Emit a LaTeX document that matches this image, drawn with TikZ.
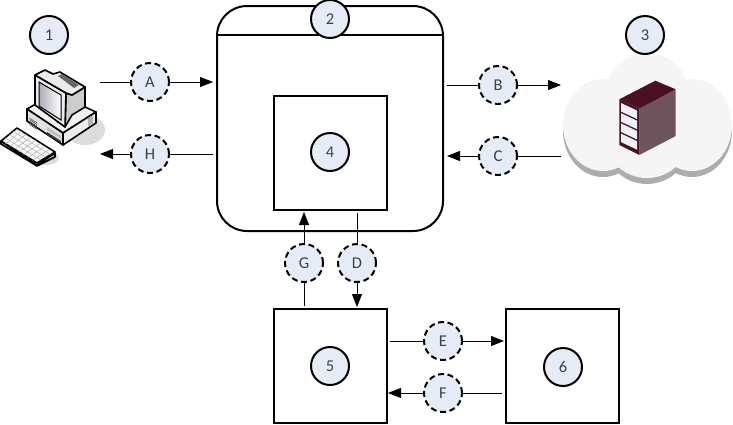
\documentclass[tikz,border=0pt]{standalone}
\usepackage{fontspec}
\setmainfont{Carlito}
\usetikzlibrary{arrows.meta,calc}
\definecolor{bub}{HTML}{E6ECF7}
\definecolor{txt}{HTML}{404040}
\definecolor{srvd}{HTML}{4A1024}
\definecolor{srvm}{HTML}{6E545C}
\tikzset{
  numc/.style={circle,draw=black,line width=2pt,fill=bub,minimum size=38pt,inner sep=0pt,text=txt,font=\fontsize{16.5}{16.5}\selectfont},
  letc/.style={numc,dash pattern=on 6pt off 3.6pt},
  boxn/.style={draw=black,line width=2pt,fill=white,minimum width=113pt,minimum height=113.5pt,inner sep=0pt,outer sep=0pt,anchor=north west},
  conn/.style={draw=black,line width=.8pt,-{Triangle[length=13pt,width=10pt]}},
  plain/.style={draw=black,line width=.8pt},
  ol/.style={draw=black,line width=1.6pt,line join=round},
}
\begin{document}
\begin{tikzpicture}[x=1pt,y=-1pt]
\useasboundingbox (0,0) rectangle (733,424);
% cloud
\foreach \dy/\c in {6/black!32,0/black!4}{
  \fill[\c] (603,125+\dy) ellipse [x radius=40,y radius=46];
  \fill[\c] (692,125+\dy) ellipse [x radius=40,y radius=46];
  \fill[\c] (647,95+\dy) circle [radius=42];
  \fill[\c] (647,135+\dy) circle [radius=43];
}
% server
\fill[srvm] (639.3,108.7) -- (675.7,89.3) -- (675.7,136) -- (639.3,155) -- cycle;
\fill[srvd] (619.3,99.3) -- (655.3,80.7) -- (675.7,89.3) -- (639.3,108.7) -- cycle;
\fill[srvd] (619.3,99.3) -- (639.3,108.7) -- (639.3,155) -- (619.3,145) -- cycle;
\foreach \k in {0,1,2,3}{
  \fill[bub!70!white] (621,103+\k*10.2) -- (637,110.5+\k*10.2) -- (637,119+\k*10.2) -- (621,111.5+\k*10.2) -- cycle;
}
% computer shadows
\fill[black!14] (85,130) ellipse [x radius=20,y radius=15];
\fill[black!14] (45,158) ellipse [x radius=14,y radius=7];
% base unit
\filldraw[ol,fill=white!95!black] (27,109) -- (34,105) -- (85,107) -- (96,112) -- (63,133) -- cycle;
\filldraw[ol,fill=white!88!black] (27,109) -- (63,133) -- (63,145) -- (27,121) -- cycle;
\filldraw[ol,fill=white!93!black] (63,133) -- (96,112) -- (96,123) -- (63,145) -- cycle;
\foreach \k in {0,1,2,3,4}{\draw[black!65,line width=.6pt] (29.5,118+\k*1.6) -- (37,123+\k*1.6);}
\fill[black!25] (47,127) -- (61,136) -- (61,139) -- (47,130) -- cycle;
\fill[black!80] (47,132) -- (61,141) -- (61,143.5) -- (47,135) -- cycle;
\fill[black!30] (88,118) -- (93,115) -- (93,124) -- (88,127) -- cycle;
% monitor
\filldraw[ol,fill=white!80!black] (72,95) -- (85,87) -- (85,107) -- (72,115) -- (65,127) -- (66,93) -- cycle;
\filldraw[ol,fill=white!92!black] (35,75) -- (66,93) -- (65,127) -- (35,105) -- cycle;
\filldraw[ol,fill=white!92!black] (35,75) -- (45,70) -- (53,74) -- (60,72) -- (85,87) -- (72,95) -- (66,93) -- cycle;
\fill[black!60] (58,76) -- (62,74) -- (79,85) -- (74,88) -- cycle;
\filldraw[draw=black,line width=1pt,left color=bub!70!black!90!white,right color=white] (39,82) -- (61,95) -- (61,120) -- (39,106) -- cycle;
\fill[black] (58,122) circle [radius=1];
% keyboard
\filldraw[ol,fill=white!70!black] (1,141) -- (37,165) -- (55,153) -- (55,157) -- (37,166) -- (1,144) -- cycle;
\filldraw[ol,fill=white!97!black] (1,141) -- (17,128) -- (55,152) -- (37,163) -- cycle;
\foreach \t in {.25,.5,.75}{
  \draw[black!30,line width=.5pt] ($(1,141)!\t!(17,128)$) -- ($(37,163)!\t!(55,152)$);
}
\foreach \t in {.125,.25,.375,.5,.625,.75,.875}{
  \draw[black!30,line width=.5pt] ($(1,141)!\t!(37,163)$) -- ($(17,128)!\t!(55,152)$);
}
% boxes
\draw[line width=2pt,rounded corners=30pt,fill=white] (217,6) rectangle (443,231);
\draw[line width=2pt] (217,35) -- (443,35);
\node[boxn] (b4) at (274,96) {};
\node[boxn] (b5) at (274,309) {};
\node[boxn] (b6) at (506,309) {};
\node[numc] (n1) at (49,35) {1};
\node[numc] (n2) at (330,19) {2};
\node[numc] (n3) at (645,35) {3};
\node[numc] (n4) at (330,152) {4};
\node[numc] (n5) at (330,366) {5};
\node[numc] (n6) at (563,367) {6};
% connector ends
\coordinate (as) at (100,82); \coordinate (ae) at (213,82);
\coordinate (hs) at (213,154); \coordinate (he) at (100,154);
\coordinate (bs) at (447,85); \coordinate (be) at (561,85);
\coordinate (cs) at (561,156); \coordinate (ce) at (447,156);
\coordinate (gs) at (304,306); \coordinate (ge) at (304,212);
\coordinate (ds) at (357,213); \coordinate (de) at (357,307);
\coordinate (es) at (390,341); \coordinate (ee) at (504,341);
\coordinate (fs) at (502,393); \coordinate (fe) at (388,393);
\node[letc] (A) at (150,82) {A};
\node[letc] (H) at (150,154) {H};
\node[letc] (B) at (498,85) {B};
\node[letc] (C) at (498,156) {C};
\node[letc] (G) at (304,263) {G};
\node[letc] (D) at (357,263) {D};
\node[letc] (E) at (443,341) {E};
\node[letc] (F) at (443,393) {F};
\foreach \s/\m/\e in {as/A/ae,hs/H/he,bs/B/be,cs/C/ce,gs/G/ge,ds/D/de,es/E/ee,fs/F/fe}{
  \draw[plain] (\s) -- (\m);
  \draw[conn] (\m) -- (\e);
}
\end{tikzpicture}
\end{document}
